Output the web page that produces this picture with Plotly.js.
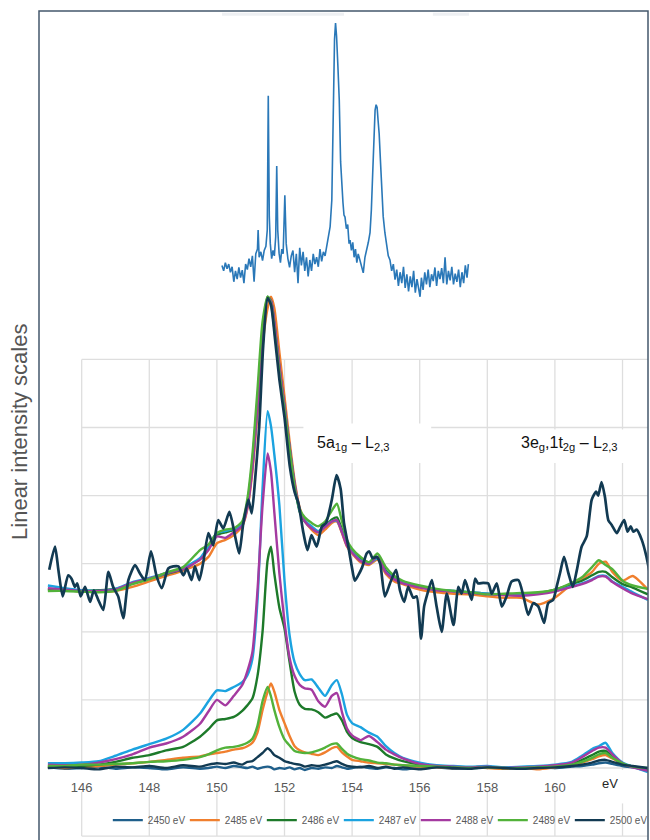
<!DOCTYPE html>
<html>
<head>
<meta charset="utf-8">
<script src="https://cdn.plot.ly/plotly-3.0.1.min.js"></script>
<style>body{margin:0;background:#fff}#chart{width:650px;height:840px}</style>
</head>
<body>
<div id="chart"></div>
<script>
// ---------- data ----------
const energy = [145.0,145.5,146.0,146.5,147.0,147.5,148.0,148.5,149.0,149.5,149.75,150.0,150.25,150.5,150.75,150.9,151.05,151.2,151.35,151.5,151.6,151.7,151.85,152.0,152.15,152.3,152.45,152.6,152.8,153.0,153.2,153.4,153.55,153.7,153.85,154.0,154.25,154.5,154.75,155.0,155.25,155.5,156.0,156.5,157.0,157.5,158.0,158.5,159.0,159.5,160.0,160.5,160.8,161.1,161.3,161.5,161.7,162.0,162.3,162.75];

const seriesNames = ["2450 eV","2485 eV","2486 eV","2487 eV","2488 eV","2489 eV","2500 eV"];
const seriesColors = ["#1F5F8B","#F07F2E","#1D7A2A","#1BA3E0","#A43AA0","#52B23A","#123A52"];

// lower (absolute) spectra
const low2450 = [0.01,-0.01,0.0,0.02,-0.01,0.01,0.0,-0.02,0.01,-0.01,0.0,0.02,0.0,0.03,0.01,0.0,0.02,-0.01,0.01,0.02,0.01,-0.02,0.0,-0.01,0.01,-0.02,0.0,-0.03,0.0,-0.01,0.01,0.0,0.03,0.01,-0.01,0.0,0.02,0.0,-0.01,0.01,0.0,-0.02,0.0,0.01,-0.01,0.0,0.01,-0.01,0.0,0.01,0.0,0.02,0.03,0.05,0.07,0.08,0.06,0.03,0.01,-0.02];
const low2485 = [0.01,0.00,0.01,0.03,0.05,0.07,0.09,0.12,0.15,0.17,0.20,0.22,0.24,0.27,0.29,0.32,0.37,0.52,0.85,1.12,1.24,1.12,0.85,0.66,0.47,0.32,0.26,0.23,0.21,0.19,0.23,0.29,0.31,0.23,0.17,0.12,0.10,0.08,0.07,0.06,0.05,0.04,0.02,0.01,0.0,0.01,0.0,-0.01,0.0,-0.02,0.01,0.04,0.08,0.13,0.17,0.19,0.14,0.06,0.02,-0.01];
const low2486 = [0.02,0.02,0.03,0.05,0.09,0.15,0.19,0.26,0.31,0.46,0.57,0.70,0.72,0.75,0.84,0.92,1.02,1.35,2.00,3.05,3.25,2.85,2.35,2.05,1.56,1.12,0.93,0.87,0.86,0.82,0.74,0.78,0.80,0.70,0.53,0.44,0.38,0.35,0.31,0.20,0.14,0.10,0.05,0.02,0.01,0.01,0.02,0.0,0.01,0.02,0.03,0.06,0.12,0.19,0.24,0.25,0.17,0.06,0.02,-0.02];
const low2487 = [0.07,0.07,0.08,0.10,0.18,0.27,0.35,0.43,0.56,0.80,0.98,1.14,1.13,1.19,1.26,1.36,1.60,2.45,4.10,5.24,5.02,4.60,3.85,2.75,1.95,1.55,1.38,1.29,1.30,1.18,1.06,1.22,1.29,1.08,0.78,0.66,0.60,0.52,0.46,0.32,0.22,0.15,0.08,0.04,0.03,0.02,0.03,0.01,0.02,0.03,0.05,0.09,0.18,0.28,0.32,0.37,0.22,0.08,0.02,-0.06];
const low2488 = [0.05,0.04,0.05,0.08,0.13,0.20,0.30,0.36,0.46,0.65,0.83,1.00,0.92,1.06,1.22,1.42,1.70,2.60,3.85,4.62,4.35,3.75,2.85,2.15,1.62,1.35,1.22,1.17,1.15,0.98,0.90,1.06,1.10,0.82,0.58,0.48,0.41,0.47,0.38,0.27,0.20,0.14,0.06,0.03,0.02,0.01,0.02,0.0,0.01,0.02,0.04,0.08,0.16,0.25,0.30,0.30,0.20,0.07,0.01,-0.04];
const low2489 = [0.03,0.03,0.05,0.05,0.06,0.07,0.09,0.10,0.12,0.16,0.20,0.26,0.30,0.31,0.34,0.37,0.43,0.62,0.98,1.19,1.05,0.85,0.60,0.42,0.33,0.25,0.23,0.22,0.23,0.26,0.30,0.35,0.36,0.28,0.21,0.17,0.13,0.11,0.08,0.07,0.05,0.04,0.03,0.02,0.01,0.0,0.01,0.0,0.0,0.01,0.02,0.05,0.09,0.15,0.20,0.22,0.15,0.07,0.02,0.0];
const low2500 = [0.0,0.01,0.0,-0.02,0.02,0.01,0.03,0.0,0.04,0.02,0.05,0.07,0.06,0.08,0.05,0.09,0.10,0.16,0.22,0.29,0.25,0.19,0.15,0.10,0.08,0.06,0.05,0.02,0.04,0.03,0.05,0.08,0.10,0.06,0.03,0.02,0.01,0.03,0.0,0.02,-0.01,0.01,-0.02,0.01,0.0,-0.01,0.01,0.0,-0.01,0.0,0.01,0.03,0.05,0.08,0.11,0.12,0.09,0.05,0.03,0.0];

// upper (normalised, offset) spectra
const up2485 = [2.63,2.62,2.59,2.59,2.60,2.66,2.74,2.82,2.90,3.00,3.10,3.30,3.35,3.42,3.55,3.80,4.35,5.20,6.20,6.75,6.92,6.75,6.10,5.45,4.80,4.22,3.82,3.63,3.50,3.42,3.50,3.60,3.62,3.45,3.25,3.15,3.02,2.98,3.06,2.85,2.74,2.70,2.62,2.58,2.56,2.55,2.52,2.50,2.50,2.40,2.50,2.70,2.78,2.88,3.00,3.03,2.88,2.75,2.82,2.62];
const up2486 = [2.62,2.61,2.60,2.61,2.63,2.71,2.78,2.85,2.92,3.07,3.24,3.42,3.46,3.50,3.60,3.88,4.50,5.40,6.40,6.92,6.86,6.52,5.88,5.30,4.70,4.15,3.76,3.62,3.53,3.47,3.55,3.65,3.68,3.50,3.30,3.20,3.07,3.02,3.10,2.90,2.80,2.73,2.66,2.62,2.60,2.58,2.56,2.55,2.55,2.57,2.62,2.70,2.75,2.83,2.88,2.88,2.80,2.70,2.65,2.55];
const up2487 = [2.68,2.64,2.61,2.60,2.63,2.73,2.79,2.86,2.94,3.08,3.26,3.45,3.48,3.51,3.58,3.85,4.45,5.35,6.35,6.90,6.85,6.50,5.85,5.30,4.70,4.15,3.78,3.64,3.55,3.48,3.55,3.62,3.63,3.47,3.28,3.18,3.05,3.00,3.08,2.88,2.78,2.72,2.66,2.62,2.60,2.58,2.56,2.55,2.54,2.56,2.60,2.67,2.71,2.77,2.82,2.82,2.74,2.66,2.58,2.47];
const up2488 = [2.64,2.62,2.60,2.60,2.62,2.72,2.78,2.86,2.92,3.06,3.20,3.40,3.38,3.46,3.56,3.82,4.40,5.30,6.30,6.90,6.86,6.55,5.90,5.32,4.72,4.18,3.80,3.62,3.52,3.46,3.54,3.62,3.64,3.46,3.26,3.16,3.04,3.00,3.10,2.87,2.77,2.71,2.65,2.61,2.59,2.57,2.55,2.54,2.53,2.55,2.59,2.66,2.70,2.76,2.81,2.81,2.73,2.64,2.56,2.48];
const up2489 = [2.60,2.60,2.59,2.58,2.60,2.70,2.77,2.87,2.95,3.20,3.28,3.45,3.50,3.52,3.62,3.95,4.60,5.55,6.55,6.92,6.82,6.45,5.80,5.25,4.68,4.12,3.80,3.68,3.60,3.55,3.62,3.78,3.88,3.62,3.35,3.22,3.10,3.02,3.15,2.95,2.82,2.75,2.68,2.63,2.60,2.58,2.55,2.56,2.57,2.58,2.62,2.72,2.80,2.95,3.05,2.98,2.92,2.75,2.68,2.63];

const navyE = [145.04,145.21,145.31,145.44,145.60,145.70,145.80,145.87,145.97,146.10,146.25,146.36,146.49,146.64,146.79,146.93,147.08,147.23,147.38,147.58,147.72,147.87,148.05,148.22,148.37,148.56,148.71,148.86,149.01,149.11,149.25,149.35,149.48,149.60,149.75,149.89,150.04,150.19,150.37,150.54,150.66,150.78,150.93,151.03,151.13,151.25,151.37,151.50,151.60,151.72,151.85,152.00,152.16,152.30,152.41,152.56,152.68,152.80,152.95,153.10,153.23,153.40,153.54,153.66,153.76,153.89,153.99,154.08,154.18,154.30,154.43,154.51,154.61,154.73,154.83,154.97,155.12,155.30,155.42,155.54,155.66,155.81,155.91,156.04,156.13,156.23,156.36,156.50,156.65,156.80,157.00,157.14,157.24,157.34,157.44,157.54,157.64,157.73,157.88,158.03,158.13,158.28,158.43,158.57,158.72,158.92,159.07,159.21,159.36,159.51,159.68,159.80,159.95,160.05,160.15,160.27,160.40,160.53,160.65,160.79,160.94,161.09,161.22,161.28,161.38,161.48,161.58,161.68,161.83,161.93,162.05,162.15,162.24,162.32,162.42,162.57,162.71,162.79];
const up2500 = [2.91,3.25,2.91,2.52,2.83,2.78,2.66,2.71,2.52,2.66,2.44,2.61,2.47,2.32,2.88,2.66,2.52,2.20,2.76,2.98,2.86,2.76,3.18,2.81,2.64,2.93,2.96,2.96,2.83,2.93,2.76,2.96,2.76,3.03,3.45,3.27,3.64,3.52,3.76,3.40,3.15,3.59,3.94,3.74,4.23,5.00,6.20,6.90,6.80,6.30,5.70,5.15,4.42,4.05,3.89,3.45,3.20,3.42,3.25,3.54,3.60,3.94,4.30,4.10,3.60,3.25,2.96,2.75,2.83,2.95,3.15,3.18,3.08,3.10,3.00,2.52,2.71,2.91,2.60,2.44,2.66,2.50,2.52,1.90,2.37,2.56,2.76,2.37,2.00,2.56,2.10,2.66,2.56,2.76,2.61,2.47,2.78,2.71,2.72,2.71,2.56,2.71,2.37,2.52,2.74,2.76,2.52,2.25,2.42,2.37,2.13,2.42,2.47,2.66,2.86,3.10,2.86,2.66,2.91,3.25,3.40,3.94,4.06,4.00,4.20,3.98,3.64,3.57,3.45,3.54,3.64,3.47,3.55,3.47,3.50,3.35,3.10,2.90];

// inset reference spectrum
const insetE = [150.15,150.20,150.25,150.30,150.35,150.40,150.45,150.50,150.55,150.60,150.65,150.70,150.75,150.80,150.85,150.90,150.95,151.00,151.05,151.10,151.15,151.20,151.22,151.25,151.30,151.35,151.40,151.45,151.49,151.52,151.55,151.58,151.62,151.66,151.70,151.74,151.77,151.80,151.84,151.88,151.92,151.96,152.01,152.05,152.10,152.15,152.20,152.25,152.30,152.35,152.40,152.45,152.50,152.55,152.60,152.65,152.70,152.75,152.80,152.85,152.90,152.95,153.00,153.05,153.10,153.15,153.20,153.25,153.30,153.35,153.40,153.44,153.48,153.51,153.54,153.58,153.62,153.66,153.69,153.73,153.76,153.79,153.83,153.87,153.91,153.94,153.98,154.02,154.06,154.10,154.14,154.18,154.23,154.28,154.33,154.38,154.43,154.48,154.53,154.57,154.61,154.65,154.68,154.71,154.74,154.77,154.80,154.84,154.88,154.92,154.97,155.02,155.07,155.12,155.17,155.22,155.27,155.32,155.37,155.42,155.47,155.52,155.57,155.62,155.67,155.72,155.77,155.82,155.87,155.92,155.97,156.01,156.05,156.10,156.15,156.20,156.25,156.30,156.35,156.40,156.45,156.50,156.55,156.60,156.65,156.70,156.75,156.80,156.85,156.90,156.95,157.00,157.05,157.10,157.15,157.20,157.25,157.30,157.35,157.40,157.44];
const insetI = [7.38,7.30,7.42,7.33,7.40,7.28,7.36,7.14,7.30,7.18,7.35,7.20,7.31,7.12,7.40,7.32,7.48,7.36,7.52,7.14,7.55,7.62,7.90,7.50,7.58,7.45,7.60,7.66,7.90,9.87,8.10,7.70,7.48,7.60,7.52,7.80,8.84,7.90,7.56,7.42,7.62,7.55,8.41,7.70,7.48,7.35,7.52,7.60,7.28,7.55,7.12,7.64,7.38,7.58,7.30,7.50,7.22,7.46,7.30,7.55,7.40,7.50,7.36,7.62,7.44,7.58,7.52,7.66,7.75,7.95,8.34,9.81,10.70,10.94,10.75,10.30,9.81,8.90,8.53,8.30,8.12,8.09,7.92,7.98,7.70,7.75,7.60,7.72,7.50,7.62,7.42,7.55,7.46,7.36,7.27,7.50,7.60,7.72,7.86,8.20,8.74,9.40,9.66,9.74,9.70,9.50,9.32,8.90,8.53,8.10,7.86,7.70,7.52,7.46,7.30,7.40,7.17,7.32,7.08,7.28,7.12,7.36,7.05,7.25,7.00,7.22,7.06,7.30,6.98,7.18,7.05,6.92,7.20,7.02,7.28,7.10,7.32,7.06,7.25,7.15,7.35,7.08,7.30,7.18,7.34,7.12,7.50,7.10,7.30,7.16,7.36,7.10,7.26,7.14,7.32,7.06,7.28,7.12,7.38,7.20,7.40];

const tickVals = [146,148,150,152,154,156,158,160];
const tickText = ["146","148","150","152","154","156","158","160"];

// ---------- traces ----------
const lowSets = [low2450,low2485,low2486,low2487,low2488,low2489,low2500];
const upSets = [null,up2485,up2486,up2487,up2488,up2489];
const traces = [];

traces.push({x:insetE, y:insetI, type:'scatter', mode:'lines', showlegend:false,
  line:{color:'#2A78B8', width:1.6}, hoverinfo:'skip'});

for (let i=1;i<upSets.length;i++){
  traces.push({x:energy, y:upSets[i], type:'scatter', mode:'lines', name:seriesNames[i],
    legendgroup:seriesNames[i], showlegend:false,
    line:{color:seriesColors[i], width:2.4, shape:'spline', smoothing:0.6}});
}
traces.push({x:navyE, y:up2500, type:'scatter', mode:'lines', name:seriesNames[6],
  legendgroup:seriesNames[6], showlegend:false,
  line:{color:seriesColors[6], width:2.7, shape:'spline', smoothing:0.6}});

for (let i=0;i<lowSets.length;i++){
  traces.push({x:energy, y:lowSets[i], type:'scatter', mode:'lines', name:seriesNames[i],
    legendgroup:seriesNames[i], showlegend:true, legendrank:i+1,
    line:{color:seriesColors[i], width:2.4, shape:'spline', smoothing:0.6}});
}

// ---------- layout ----------
const XR = [144.737, 162.754];
const shapes = [];
for (let v=-1; v<=6; v++){
  shapes.push({type:'line', xref:'x', yref:'y', x0:146, x1:XR[1], y0:v, y1:v,
    line:{color:'#DEDEDE', width:1.3}, layer:'below'});
}
for (let v=146; v<=162; v+=2){
  shapes.push({type:'line', xref:'x', yref:'y', x0:v, x1:v, y0:-1, y1:6,
    line:{color:'#DEDEDE', width:1.3}, layer:'below'});
}
// white label backgrounds
shapes.push({type:'rect', xref:'x', yref:'y', x0:152.56, x1:156.34, y0:4.48, y1:5.06,
  fillcolor:'#FFFFFF', line:{width:0}, layer:'below'});
shapes.push({type:'rect', xref:'x', yref:'y', x0:158.9, x1:162.3, y0:4.48, y1:4.97,
  fillcolor:'#FFFFFF', line:{width:0}, layer:'below'});
shapes.push({type:'rect', xref:'x', yref:'y', x0:145.9, x1:XR[1], y0:-0.35, y1:-0.03,
  fillcolor:'#FFFFFF', line:{width:0}, layer:'below'});
shapes.push({type:'rect', xref:'x', yref:'y', x0:161.8, x1:162.2, y0:-0.52, y1:-0.03,
  fillcolor:'#FFFFFF', line:{width:0}, layer:'below'});
// faint strips at top of the inset
shapes.push({type:'line', xref:'x', yref:'y', x0:150.15, x1:153.76, y0:11.07, y1:11.07,
  line:{color:'#EEF0F3', width:3}, layer:'below'});
shapes.push({type:'line', xref:'x', yref:'y', x0:156.39, x1:157.46, y0:11.07, y1:11.07,
  line:{color:'#EEF0F3', width:3}, layer:'below'});
// outer frame
shapes.push({type:'rect', xref:'paper', yref:'paper', x0:0, x1:1, y0:-0.05, y1:1,
  line:{color:'#44586C', width:1.5}, fillcolor:'rgba(0,0,0,0)', layer:'above'});

const annotations = [
  {xref:'paper', yref:'paper', x:-0.0312, y:0.4922, text:'Linear intensity scales',
   textangle:-90, showarrow:false, xanchor:'center', yanchor:'middle',
   font:{size:22, color:'#555555', family:'Liberation Sans, Arial, sans-serif'}},
  {xref:'x', yref:'y', x:154.04, y:4.77, text:'5a<sub>1g</sub> – L<sub>2,3</sub>',
   showarrow:false, font:{size:16, color:'#111111'}},
  {xref:'x', yref:'y', x:160.42, y:4.77, text:'3e<sub>g</sub>,1t<sub>2g</sub> – L<sub>2,3</sub>',
   showarrow:false, font:{size:16, color:'#111111'}},
  {xref:'x', yref:'y', x:161.63, y:-0.22, text:'eV', showarrow:false,
   font:{size:13, color:'#262626'}}
];

const layout = {
  width:650, height:840,
  margin:{l:39, r:2, t:11, b:0, pad:0},
  paper_bgcolor:'#FFFFFF', plot_bgcolor:'#FFFFFF',
  font:{family:'Liberation Sans, Arial, sans-serif', color:'#595959'},
  xaxis:{range:XR, anchor:'free', position:0.08685, showgrid:false, zeroline:false,
    showline:false, ticks:'', tickmode:'array', tickvals:tickVals, ticktext:tickText,
    tickfont:{size:13, color:'#595959'}, ticklabelstandoff:10},
  yaxis:{range:[-1.057, 11.116], visible:false, showgrid:false, zeroline:false},
  showlegend:true,
  legend:{orientation:'h', x:0.113, xanchor:'left', y:0.024, yanchor:'middle',
    font:{size:10, color:'#595959'}, entrywidth:32, entrywidthmode:'pixels',
    bgcolor:'rgba(0,0,0,0)', traceorder:'normal'},
  shapes:shapes, annotations:annotations
};

Plotly.newPlot('chart', traces, layout, {staticPlot:true, displayModeBar:false});
</script>
</body>
</html>
